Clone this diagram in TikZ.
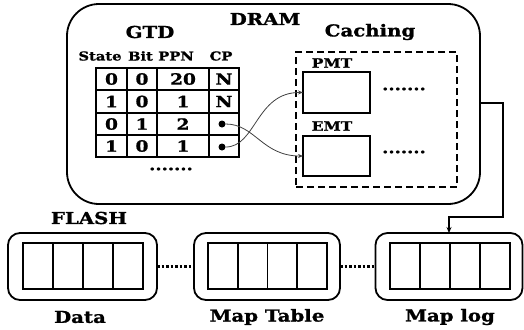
\documentclass[tikz,border=0pt]{standalone}
\usepackage{fontspec}
\setmainfont{DejaVu Serif}[FakeStretch=1.2, BoldFeatures={FakeBold=1.2}]
\usetikzlibrary{arrows.meta}
\begin{document}
\begin{tikzpicture}[x=1bp,y=-1bp,
  big/.style={font=\bfseries\fontsize{16.5}{18}\selectfont, inner sep=0pt},
  hdr/.style={font=\bfseries\fontsize{12.3}{14}\selectfont, inner sep=0pt},
  mid/.style={font=\bfseries\fontsize{13}{15}\selectfont, inner sep=0pt},
  cell/.style={draw, line width=1.8bp, minimum height=22.3bp, inner sep=0pt, outer sep=0pt, font=\bfseries\fontsize{15.5}{17}\selectfont},
  cpdot/.style={circle, fill, inner sep=0pt, minimum size=7bp},
  tbl/.style={draw, line width=2.2bp, inner sep=0pt, outer sep=0pt},
  fcell/.style={draw, line width=1.8bp, minimum width=30bp, minimum height=46bp, inner sep=0pt, outer sep=0pt},
  fbox/.style={draw, line width=1.8bp, rounded corners=12bp, minimum height=67bp, inner sep=0pt, outer sep=0pt},
  link/.style={line width=0.8bp, draw=black!75, -{Stealth[length=5bp,width=4bp]}},
  dotlink/.style={line width=2.5bp, dash pattern=on 2.5bp off 2bp},
  dots/.style={font=\bfseries\fontsize{15}{16}\selectfont, inner sep=0pt}
]
\useasboundingbox (0,0) rectangle (524,329);

% DRAM
\node[draw, line width=1.8bp, rounded corners=32bp, minimum width=413bp, minimum height=200bp, inner sep=0pt, outer sep=0pt] (dram) at (273.5,104) {};
\node[big] (dramlbl) at (265,19) {DRAM};
\node[big] (gtd) at (150,32) {GTD};
\node[big] (caching) at (370,32) {Caching};

% header
\node[hdr] (hstate) at (100,56) {State};
\node[hdr] (hbit) at (140.5,56) {Bit};
\node[hdr] (hppn) at (176,56) {PPN};
\node[hdr] (hcp) at (221,56) {CP};

% table
\foreach \r/\y/\a/\b/\c/\d in {1/79/0/0/20/N, 2/101.5/1/0/1/N, 3/124/0/1/2/{}, 4/146/1/0/1/{}} {
  \node[cell, minimum width=31bp] (s\r) at (111.5,\y) {\a};
  \node[cell, minimum width=30bp] (b\r) at (142,\y) {\b};
  \node[cell, minimum width=52bp] (p\r) at (183,\y) {\c};
  \node[cell, minimum width=30bp] (c\r) at (224,\y) {\d};
}
\node[cpdot] (d3) at (222,124) {};
\node[cpdot] (d4) at (222,147) {};
\node[dots] (tdots) at (171,169) {.......};

% caching
\node[draw, line width=1.8bp, dash pattern=on 7bp off 4bp, minimum width=161bp, minimum height=135bp, inner sep=0pt, outer sep=0pt] (cache) at (376.5,119.5) {};
\node[mid] (pmtl) at (332,63) {PMT};
\node[tbl, minimum width=67bp, minimum height=41bp] (pmt) at (336.5,92.5) {};
\node[mid] (emtl) at (332,126) {EMT};
\node[tbl, minimum width=67bp, minimum height=40bp] (emt) at (336.5,156) {};
\node[dots] (pdots) at (404,89) {.......};
\node[dots] (edots) at (404,152) {.......};

\draw[link] (d3) .. controls (255,124) and (262,156) .. (emt.west);
\draw[link] (d4) .. controls (256,147) and (256,92) .. (pmt.west);

% FLASH
\node[big] (flash) at (89,218) {FLASH};
\node[fbox, minimum width=149bp] (data) at (82.5,266.5) {};
\node[fbox, minimum width=146bp] (maptable) at (267,266.5) {};
\node[fbox, minimum width=147bp] (maplog) at (449,266.5) {};
\foreach \i in {0,1,2,3} {
  \node[fcell] (dc\i) at (38+30*\i,266) {};
  \node[fcell, minimum width=29.75bp] (tc\i) at (222.9+29.75*\i,266) {};
  \node[fcell] (lc\i) at (405+30*\i,266) {};
}
\draw[dotlink] (data.east) -- (maptable.west);
\draw[dotlink] (maptable.east) -- (maplog.west);

\node[big] (datal) at (80,317) {Data};
\node[big] (maptablel) at (267,317) {Map Table};
\node[big] (maplogl) at (450,317) {Map log};

% link DRAM -> Map log
\coordinate (exitpt) at (480,103);
\coordinate (bend) at (503,217);
\draw[line width=1.8bp, -{Stealth[length=6bp,width=5bp]}] (exitpt) -| (bend) -| (maplog.north);
\end{tikzpicture}
\end{document}
